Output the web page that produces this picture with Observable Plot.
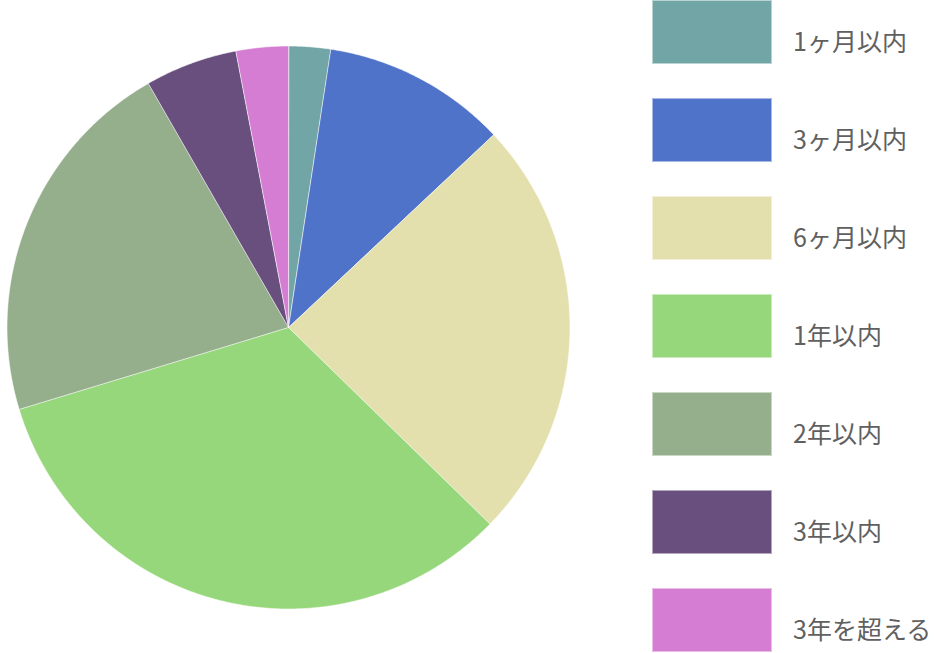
<!DOCTYPE html>
<html>
<head>
<meta charset="utf-8">
<script src="https://cdn.jsdelivr.net/npm/d3@7"></script>
<script src="https://cdn.jsdelivr.net/npm/@observablehq/plot@0.6"></script>
<style>
  html, body { margin: 0; padding: 0; background: #fff; }
  #wrap { position: relative; width: 937px; height: 653px; overflow: hidden; }
  #chart { position: absolute; left: 0; top: 0; }
  #legend { position: absolute; left: 652px; top: 0; }
  .item { position: absolute; left: 0; width: 300px; height: 64px; }
  .sw { position: absolute; left: 0; top: 0; width: 120px; height: 64px; box-sizing: border-box; border: 1px solid rgba(255,255,255,0.5); }
  .lab { position: absolute; left: 141px; top: 20px; font-family: "Noto Sans CJK JP", "Noto Sans", sans-serif; font-size: 25px; color: #606060; white-space: nowrap; line-height: 40px; }
</style>
</head>
<body>
<div id="wrap"><div id="chart"></div><div id="legend"></div></div>
<script>
const categories = ["1ヶ月以内", "3ヶ月以内", "6ヶ月以内", "1年以内", "2年以内", "3年以内", "3年を超える"];
const values = [2.4, 10.6, 24.3, 33.0, 21.4, 5.3, 3.0];
const colors = ["#72a5a5", "#4e73c8", "#e3e0ad", "#97d77b", "#95ae8b", "#684f7e", "#d47dd2"];

// slice geometry from values (clockwise from 12 o'clock)
const total = d3.sum(values);
const pts = [];
let acc = 0;
categories.forEach((c, i) => {
  const a0 = acc / total * 2 * Math.PI;
  acc += values[i];
  const a1 = acc / total * 2 * Math.PI;
  pts.push({cat: c, x: 0, y: 0});
  const n = Math.max(2, Math.ceil((a1 - a0) / (Math.PI / 360)));
  for (let k = 0; k <= n; k++) {
    const a = a0 + (a1 - a0) * k / n;
    pts.push({cat: c, x: Math.sin(a), y: Math.cos(a)});
  }
});

const R = 281.5, cx = 288, cy = 327, W = 600, H = 653;
const chart = Plot.plot({
  width: W, height: H,
  margin: 0,
  x: {domain: [-cx / R, (W - cx) / R], axis: null},
  y: {domain: [-(H - cy) / R, cy / R], axis: null},
  color: {domain: categories, range: colors},
  marks: [
    Plot.line(pts, {x: "x", y: "y", z: "cat", fill: "cat", stroke: "white", strokeWidth: 0.8, strokeOpacity: 0.7, curve: "linear-closed"})
  ]
});
document.getElementById("chart").appendChild(chart);

const legend = document.getElementById("legend");
categories.forEach((c, i) => {
  const it = document.createElement("div");
  it.className = "item";
  it.style.top = (i * 98) + "px";
  const sw = document.createElement("div");
  sw.className = "sw";
  sw.style.background = colors[i];
  const lab = document.createElement("div");
  lab.className = "lab";
  lab.textContent = c;
  it.appendChild(sw); it.appendChild(lab);
  legend.appendChild(it);
});
</script>
</body>
</html>
